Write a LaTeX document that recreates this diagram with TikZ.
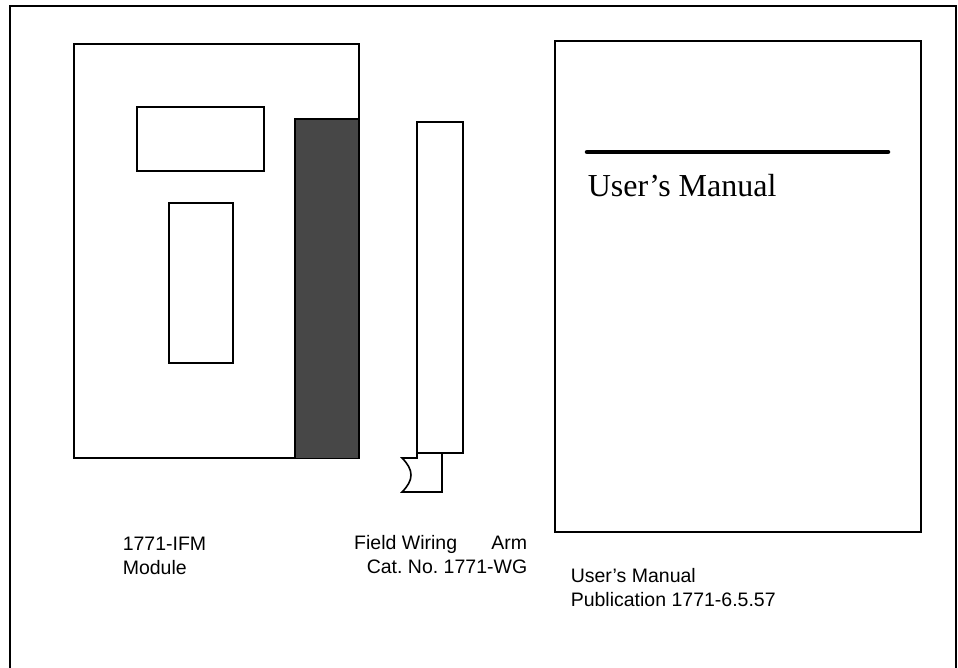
\documentclass[tikz,border=0pt]{standalone}
\usepackage{fontspec}
\setmainfont{Liberation Serif}
\setsansfont{Liberation Sans}
\usetikzlibrary{positioning}
\frenchspacing

\begin{document}
\begin{tikzpicture}[x=1pt, y=-1pt, line width=1.6pt,
  part/.style={draw, line join=miter},
  caption/.style={font=\sffamily\fontsize{19.5}{24}\selectfont, inner sep=0pt}]
  \useasboundingbox (0,0) rectangle (958,668);
  % outer frame, open at the bottom
  \draw (10,668) -- (10,6) -- (956,6) -- (956,668);

  % 1771-IFM module
  \draw[part] (74,44) rectangle (359,458);
  \draw[part, fill=black!72] (295,458) -- (295,119) -- (359,119) -- (359,458);
  \draw[part] (137,107) rectangle (264,171);
  \draw[part] (169,203) rectangle (233,363);
  \node[caption, anchor=north west, align=left] (ifm) at (122,536) {1771-IFM\\Module};

  % field wiring arm
  \draw[part] (417,122) rectangle (463,453);
  \draw[part] (417,453) -- (417,458) -- (402,458)
    .. controls (414,470) and (414,480) .. (402,492) -- (442,492) -- (442,453);
  \node[caption, anchor=north east, align=right] (arm) at (528,535)
    {\makebox[173pt][s]{Field Wiring\hfill Arm}\\Cat. No. 1771-WG};

  % user's manual
  \draw[part] (555,41) rectangle (921,532);
  \draw[line width=4.5pt, line cap=round] (587,152) -- (888,152);
  \node[anchor=base west, inner sep=0pt, font=\fontsize{32}{38}\selectfont] (title) at (587,197) {User’s Manual};
  \node[caption, anchor=north west, align=left] (manual) at (570,568) {User’s Manual\\Publication 1771-6.5.57};
\end{tikzpicture}
\end{document}
